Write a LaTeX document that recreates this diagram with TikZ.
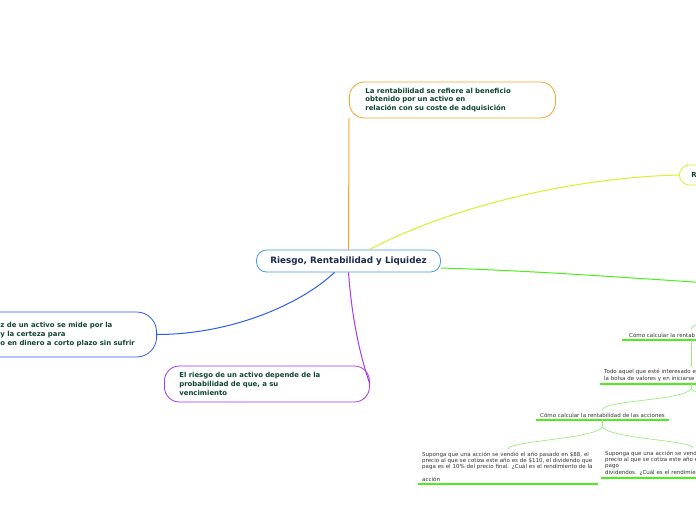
\documentclass[tikz,border=0pt]{standalone}
\usepackage{fontspec}
\setmainfont{DejaVu Sans}
\usetikzlibrary{calc}
\definecolor{rootblue}{HTML}{4A9BDF}
\definecolor{rootink}{HTML}{1B2A4E}
\definecolor{inkgreen}{HTML}{0F4434}
\definecolor{orangeb}{HTML}{F7A42C}
\definecolor{limeb}{HTML}{D6F22A}
\definecolor{greenb}{HTML}{4CEE1C}
\definecolor{blueb}{HTML}{2E5CF0}
\definecolor{purpleb}{HTML}{A838F0}
\definecolor{twiggreen}{HTML}{9BEE7E}
\definecolor{leafink}{HTML}{333333}
\tikzset{
  branch/.style={line width=1pt},
  topic/.style={draw=#1,fill=white,line width=0.8pt,rounded corners=15pt,align=left,text=inkgreen,
    font=\bfseries\fontsize{6.9}{8.6}\selectfont,minimum height=36pt,inner ysep=0pt},
  leaf/.style={font=\fontsize{5.5}{6.3}\selectfont,text=leafink,inner xsep=4pt,inner ysep=2.5pt,align=left},
  uline/.style={greenb,line width=1.5pt},
  twig/.style={twiggreen,line width=0.7pt}
}

\begin{document}
\begin{tikzpicture}[x=1pt,y=-1pt]
\useasboundingbox[fill=white] (0,0) rectangle (696,520);
\clip (0,0) rectangle (696,520);

% central topic and main topics
\node[draw=rootblue,fill=white,line width=0.8pt,rounded corners=10pt,minimum width=184pt,minimum height=22pt,
  font=\bfseries\fontsize{8.8}{10}\selectfont,text=rootink] (root) at (348.5,261) {Riesgo, Rentabilidad y Liquidez};
\node[topic=orangeb,anchor=west,text width=174pt,inner xsep=16pt] (rent) at (349,100)
  {La rentabilidad se refiere al beneficio\\obtenido por un activo en\\relación con su coste de adquisición};
\node[topic=limeb,anchor=west,minimum height=20pt,rounded corners=10pt,text width=60pt,inner xsep=12pt] (rtopic) at (679,175) {R};
\node[topic=blueb,anchor=east,minimum height=45pt,rounded corners=20pt,minimum width=178pt] (liq) at (157,334.5)
  {z de un activo se mide por la\\y la certeza para\\o en dinero a corto plazo sin sufrir};
\node[topic=purpleb,anchor=west,text width=175pt,inner xsep=15pt] (riesgo) at (164,384)
  {El riesgo de un activo depende de la\\probabilidad de que, a su\\vencimiento};
\coordinate (offgreen) at (740,285);

\draw[branch,orangeb] (root.north) -- (rent.south west);
\draw[branch,limeb] ([xshift=21pt]root.north) .. controls (440,212) and (560,178) .. (rtopic.west);
\draw[branch,greenb] ([yshift=-7pt]root.east) .. controls (540,271) and (630,278) .. (offgreen);
\draw[branch,blueb] ([xshift=-14pt]root.south) .. controls (300,305) and (230,334.5) .. (liq.east);
\draw[branch,purpleb] (root.south) .. controls (352,320) and (360,355) .. (riesgo.east);

% underlined subtopics
\node[leaf,anchor=south west,text width=124pt,inner xsep=7pt] (calc) at (622,340) {Cómo calcular la rentab};
\node[leaf,anchor=south west,text width=174pt] (todo) at (600,384)
  {Todo aquel que esté interesado e\\la bolsa de valores y en iniciarse};
\node[leaf,anchor=south west,minimum width=132pt,align=center] (acc) at (536,420)
  {Cómo calcular la rentabilidad de las acciones};
\node[leaf,anchor=south west,text width=172pt] (leafA) at (418,484)
  {Suponga que una acción se vendió el año pasado en \$88, el\\precio al que se cotiza este año es de \$110, el dividendo que\\paga es el 10\% del precio final. ¿Cuál es el rendimiento de la\\[6.3pt]acción};
\node[leaf,anchor=south west,text width=176pt] (leafB) at (601,478)
  {Suponga que una acción se vend\\precio al que se cotiza este año e\\pago\\dividendos. ¿Cuál es el rendimien};
\coordinate (upper) at (790,300);
\coordinate (sidekid) at (785,410);

\foreach \n in {calc,todo,acc,leafA,leafB}
  \draw[uline] (\n.south west) -- (\n.south east);

\draw[twig] (upper) .. controls (740,312) and (691,320) .. (calc.north);
\draw[twig] (calc.south) -- (todo.north);
\draw[twig] (todo.south) -- ++(0,5) .. controls +(-10,12) and +(0,-10) .. (acc.north);
\draw[twig] (todo.south) -- ++(0,5) .. controls +(10,12) and +(0,-10) .. (sidekid);
\draw[twig] (acc.south) -- ++(0,7) .. controls +(-8,12) and +(0,-8) .. (leafA.north);
\draw[twig] (acc.south) -- ++(0,7) .. controls +(8,12) and +(0,-8) .. (leafB.north);
\end{tikzpicture}
\end{document}
